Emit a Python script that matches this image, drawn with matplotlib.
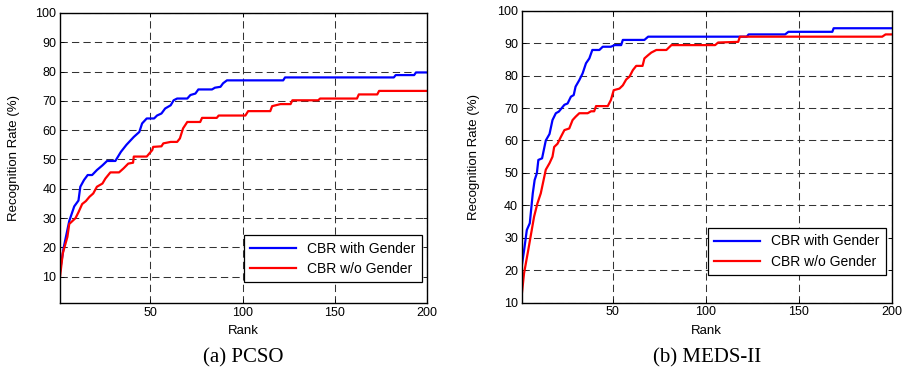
"""Cumulative match curves: CBR with and without gender, PCSO and MEDS-II."""

import matplotlib
matplotlib.use("Agg")
import matplotlib.pyplot as plt

# (a) PCSO
pcso_with_rank = [1, 3, 6, 8.7, 11, 12, 14, 16, 18.4, 21, 24, 26.5, 31, 34, 37, 41, 44, 45.5, 48, 52,
                  53.6, 56, 58, 61, 62.6, 64.5, 70, 71.7, 74.4, 76, 83.4, 85, 88, 89.4, 91.5, 122, 123,
                  182, 183, 193, 194, 200]
pcso_with_rate = [12, 20, 29, 34, 36, 40.7, 43, 44.7, 44.7, 46.4, 48, 49.5, 49.5, 52.6, 55, 57.7, 59.4,
                  62.3, 64, 64, 65, 65.7, 67.4, 68.5, 70.2, 70.8, 70.8, 72, 72.5, 73.9, 73.9, 74.5, 74.8,
                  76, 77, 77, 78, 78, 78.8, 78.8, 79.7, 79.7]
pcso_wo_rank = [1, 2.5, 5, 6, 9.4, 11, 13, 15, 17, 19, 21, 24, 25.6, 28.3, 33, 35.5, 38, 40.6, 41, 48,
                51, 51.5, 56, 57, 61, 64.5, 66, 67.7, 70, 77, 78, 86, 87, 101.5, 103, 115, 116, 120.5,
                126, 127, 141, 142, 162, 163, 173, 174, 200]
pcso_wo_rate = [10, 18, 23.6, 28, 30, 32, 34.8, 35.8, 37.3, 38.4, 40.7, 41.8, 43.5, 45.6, 45.6, 47, 48.6,
                48.9, 51, 51, 53.2, 54.3, 54.5, 55.5, 56, 56, 57.2, 60.6, 62.8, 62.8, 64.2, 64.2, 65, 65,
                66.5, 66.5, 68.2, 68.9, 68.9, 70.2, 70.2, 70.8, 70.8, 72.2, 72.2, 73.4, 73.4]

# (b) MEDS-II
meds_with_rank = [1, 2.3, 3.8, 5.4, 7, 8, 9.2, 10, 12, 14, 16, 17.6, 19.4, 21, 24, 25.7, 27.5, 29, 30,
                  32, 33.8, 35.6, 37.4, 39, 42.8, 44.6, 49, 51, 54.5, 55.4, 67, 69, 122, 123, 142.6,
                  144.4, 168, 168.7, 200]
meds_with_rate = [21, 26, 32.4, 34.5, 43.7, 47.8, 49.9, 54, 54.5, 60, 62, 66.3, 68.4, 68.9, 71, 71.4,
                  73.5, 74, 76.6, 78.6, 80.7, 83.8, 85.3, 87.9, 87.9, 88.9, 88.9, 89.4, 89.4, 91, 91, 92,
                  92, 92.7, 92.7, 93.5, 93.5, 94.6, 94.6]
meds_wo_rank = [1, 2.3, 4.5, 7.7, 9.5, 11.3, 14, 16, 17.6, 18.5, 20.3, 22, 24, 26.6, 28.4, 30, 32, 36.5,
                38.3, 40, 41, 47.3, 49, 50.5, 53.6, 55.4, 57.2, 59, 60.8, 62.6, 66, 67, 69, 70.7, 73.4,
                78.8, 81.5, 105, 106.6, 117.4, 118.3, 194.8, 196.6, 200]
meds_wo_rate = [12, 19, 26, 36.5, 40.6, 43.7, 51, 53, 55, 58, 59, 61, 63.2, 63.7, 66.3, 67.3, 68.4, 68.4,
                69, 69, 70.6, 70.6, 72.5, 75.5, 76, 77, 78.8, 79.7, 81.7, 83, 83, 85.3, 86.3, 87.1, 87.9,
                87.9, 89.4, 89.4, 90.2, 90.4, 92, 92, 92.7, 92.7]

series_labels = ["CBR with Gender", "CBR w/o Gender"]
x_ticks = [50, 100, 150, 200]
y_ticks = [10, 20, 30, 40, 50, 60, 70, 80, 90, 100]

plt.rcParams["font.family"] = ["Liberation Sans", "DejaVu Sans"]

fig = plt.figure(figsize=(9.04, 3.70), dpi=100)
ax_a = fig.add_axes([0.0664, 0.180, 0.406, 0.785])
ax_b = fig.add_axes([0.577, 0.182, 0.4096, 0.789])

panels = [
    (ax_a, pcso_with_rank, pcso_with_rate, pcso_wo_rank, pcso_wo_rate, 0.9, "(a) PCSO",
     (0.986, 0.073), -0.109),
    (ax_b, meds_with_rank, meds_with_rate, meds_wo_rank, meds_wo_rate, 10, "(b) MEDS-II",
     (0.984, 0.095), -0.113),
]

for ax, wr, wv, nr, nv, ymin, caption, leg_anchor, ylab_x in panels:
    ax.plot(wr, wv, color="#0000ff", lw=1.6, label=series_labels[0])
    ax.plot(nr, nv, color="#ff0000", lw=1.6, label=series_labels[1])
    ax.set_xlim(1, 200)
    ax.set_ylim(ymin, 100)
    ax.set_xticks(x_ticks)
    ax.set_yticks(y_ticks)
    ax.tick_params(direction="in", length=3, width=0.6, labelsize=9, pad=2.5,
                   top=True, right=True)
    ax.grid(True, color="#333333", lw=0.75, linestyle=(0, (7, 4)))
    for sp in ax.spines.values():
        sp.set_linewidth(1.0)
    ax.set_xlabel("Rank", fontsize=9.5)
    ax.set_ylabel("Recognition Rate (%)", fontsize=9.5)
    ax.xaxis.set_label_coords(0.5, -0.075)
    ax.yaxis.set_label_coords(ylab_x, 0.5)
    leg = ax.legend(loc="lower right", bbox_to_anchor=leg_anchor, fontsize=10, fancybox=False,
                    framealpha=1, edgecolor="black", handlelength=3.3, borderpad=0.45,
                    labelspacing=0.45, borderaxespad=0)
    leg.get_frame().set_linewidth(0.9)
    pos = ax.get_position()
    fig.text((pos.x0 + pos.x1) / 2, 0.032, caption, ha="center", va="center",
             family=["Liberation Serif", "DejaVu Serif"], fontsize=15)

fig.savefig("out.png", dpi=100)
